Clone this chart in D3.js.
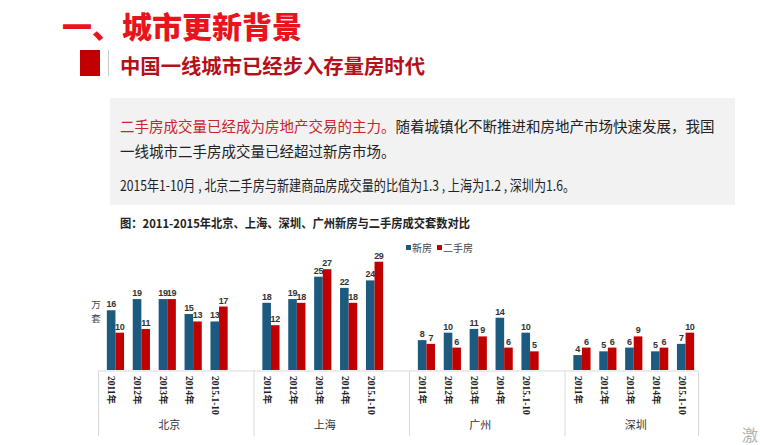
<!DOCTYPE html>
<html><head><meta charset="utf-8">
<script src="https://cdn.jsdelivr.net/npm/d3@7"></script>
<style>
html,body{margin:0;padding:0;background:#fff;}
svg{display:block;}
</style></head>
<body>
<svg id="c" width="760" height="445"></svg>
<script>
const cities = ["北京", "上海", "广州", "深圳"];
const years = ["2011年", "2012年", "2013年", "2014年", "2015.1-10"];
const seriesNames = ["新房", "二手房"];
const newHouse = [
  [16, 19, 19, 15, 13],
  [18, 19, 25, 22, 24],
  [8, 10, 11, 14, 10],
  [4, 5, 6, 5, 7]
];
const secondHand = [
  [10, 11, 19, 13, 17],
  [12, 18, 27, 18, 29],
  [7, 6, 9, 6, 5],
  [6, 6, 9, 6, 10]
];
const colors = ["#1c5a80", "#c00000"];

const svg = d3.select("#c");
const cjk = "'Noto Sans CJK SC', 'Noto Sans', sans-serif";

// Header
svg.append("text").attr("x", 62).attr("y", 38)
  .attr("font-family", cjk).attr("font-weight", 900).attr("font-size", 30)
  .attr("fill", "#e8141c").text("一、城市更新背景");
svg.append("rect").attr("x", 80).attr("y", 50).attr("width", 20).attr("height", 26).attr("fill", "#c00000");
svg.append("line").attr("x1", 108.5).attr("x2", 108.5).attr("y1", 50).attr("y2", 76)
  .attr("stroke", "#c8c8c8").attr("stroke-width", 1);
svg.append("text").attr("x", 120).attr("y", 74)
  .attr("font-family", cjk).attr("font-weight", 700).attr("font-size", 20)
  .attr("textLength", 305).attr("lengthAdjust", "spacingAndGlyphs")
  .attr("fill", "#b3101a").text("中国一线城市已经步入存量房时代");

// Grey text box
svg.append("rect").attr("x", 110).attr("y", 98).attr("width", 625).attr("height", 107).attr("fill", "#f2f2f2");
const t1 = svg.append("text").attr("x", 120).attr("y", 132)
  .attr("font-family", cjk).attr("font-size", 14.5).attr("fill", "#222");
t1.append("tspan").attr("fill", "#c8242b").text("二手房成交量已经成为房地产交易的主力。");
t1.append("tspan").text("随着城镇化不断推进和房地产市场快速发展，我国");
svg.append("text").attr("x", 120).attr("y", 157)
  .attr("font-family", cjk).attr("font-size", 14.5).attr("fill", "#222")
  .text("一线城市二手房成交量已经超过新房市场。");
svg.append("text").attr("x", 120).attr("y", 191)
  .attr("font-family", cjk).attr("font-size", 14.5).attr("fill", "#222")
  .attr("textLength", 455).attr("lengthAdjust", "spacingAndGlyphs")
  .text("2015年1-10月 , 北京二手房与新建商品房成交量的比值为1.3 , 上海为1.2 , 深圳为1.6。");

// Chart title
svg.append("text").attr("x", 120).attr("y", 228)
  .attr("font-family", cjk).attr("font-weight", 700).attr("font-size", 12)
  .attr("textLength", 350).attr("lengthAdjust", "spacingAndGlyphs")
  .attr("fill", "#222").text("图：2011-2015年北京、上海、深圳、广州新房与二手房成交套数对比");

// Legend
const lg = svg.append("g").attr("font-family", cjk).attr("font-size", 10).attr("fill", "#444");
seriesNames.forEach((s, i) => {
  const lx = [406, 437][i];
  lg.append("rect").attr("x", lx).attr("y", 245).attr("width", 5).attr("height", 5).attr("fill", colors[i]);
  lg.append("text").attr("x", lx + 6).attr("y", 251.5).text(s);
});

// Scales
const cityX = d3.scaleBand().domain(cities).range([98.5, 98.5 + 4 * 155.5]);
const yearX = d3.scaleBand().domain(years).range([4, 4 + 5 * 25.9]);
const serX = d3.scaleBand().domain(seriesNames).range([-8.6, 8.6]);
const y = d3.scaleLinear().domain([0, 30]).range([370, 258]);

// Axis lines
const axisCol = "#d9d9d9";
const rightEdge = cityX("深圳") + yearX.range()[1];
svg.append("line").attr("x1", cityX("北京")).attr("x2", rightEdge).attr("y1", 371).attr("y2", 371)
  .attr("stroke", axisCol);
cities.forEach(c => {
  svg.append("line").attr("x1", cityX(c)).attr("x2", cityX(c)).attr("y1", 371).attr("y2", 436).attr("stroke", axisCol);
});
svg.append("line").attr("x1", rightEdge).attr("x2", rightEdge).attr("y1", 371).attr("y2", 436).attr("stroke", axisCol);

// Bars
cities.forEach((c, ci) => {
  const g = svg.append("g");
  years.forEach((yr, yi) => {
    const cx = cityX(c) + yearX(yr) + yearX.bandwidth() / 2;
    [newHouse[ci][yi], secondHand[ci][yi]].forEach((v, si) => {
      const bx = cx + serX(seriesNames[si]);
      g.append("rect").attr("x", bx).attr("y", y(v)).attr("width", serX.bandwidth())
        .attr("height", y(0) - y(v)).attr("fill", colors[si]);
      g.append("text").attr("x", bx + serX.bandwidth() / 2).attr("y", y(v) - 3)
        .attr("text-anchor", "middle").attr("font-family", "'Liberation Sans', Arial, sans-serif")
        .attr("font-weight", 700).attr("font-size", 9).attr("letter-spacing", -0.3)
        .attr("fill", "#333").text(v);
    });
    g.append("text").attr("transform", `translate(${cx - 4},376) rotate(90)`)
      .attr("dominant-baseline", "central")
      .attr("font-family", "'Liberation Serif', " + cjk).attr("font-weight", 700).attr("font-size", 9.5)
      .attr("fill", "#222").text(yr);
  });
  svg.append("text").attr("x", cityX(c) + yearX.range()[0] + 5 * 25.9 / 2 + 2).attr("y", 429)
    .attr("text-anchor", "middle").attr("font-family", cjk).attr("font-size", 11)
    .attr("fill", "#333").text(c);
});

// y unit label
svg.append("text").attr("x", 96).attr("y", 308).attr("text-anchor", "middle")
  .attr("font-family", cjk).attr("font-size", 9.5).attr("fill", "#444").text("万");
svg.append("text").attr("x", 96).attr("y", 322).attr("text-anchor", "middle")
  .attr("font-family", cjk).attr("font-size", 9.5).attr("fill", "#444").text("套");

// watermark
svg.append("text").attr("x", 742).attr("y", 441)
  .attr("font-family", cjk).attr("font-size", 16).attr("fill", "#b0b0b0").text("激");
</script>
</body></html>
